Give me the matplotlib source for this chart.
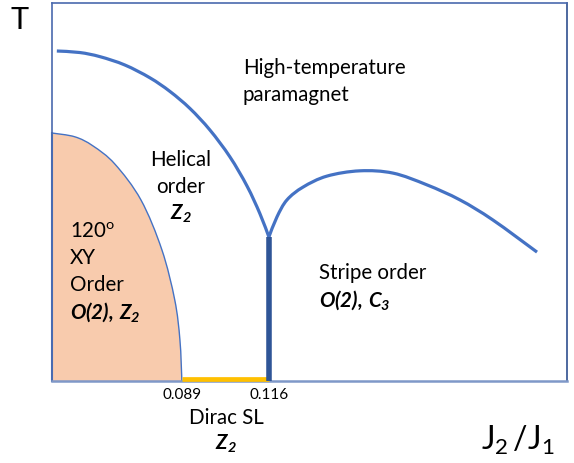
import matplotlib
matplotlib.use("Agg")
import matplotlib.pyplot as plt
from matplotlib.path import Path
from matplotlib.patches import PathPatch

plt.rcParams['font.family'] = ['Lato', 'DejaVu Sans']
plt.rcParams['mathtext.fontset'] = 'custom'
plt.rcParams['mathtext.rm'] = 'Lato'
plt.rcParams['mathtext.it'] = 'Lato:italic:bold'
plt.rcParams['mathtext.bf'] = 'Lato:italic:bold'

# ---- data (J2/J1 on x, T in arbitrary units on y) ----
xy_order_x = [0.0487, 0.0558, 0.0614, 0.0682, 0.0763, 0.0828, 0.0868, 0.0884, 0.0890]
xy_order_T = [0.656, 0.646, 0.622, 0.574, 0.479, 0.347, 0.214, 0.108, 0.0]

helical_x = [0.0502, 0.0573, 0.0636, 0.0713, 0.0791, 0.0853, 0.0915, 0.0977, 0.1039, 0.1092, 0.1132, 0.1160]
helical_T = [0.873, 0.869, 0.858, 0.836, 0.802, 0.766, 0.721, 0.664, 0.593, 0.516, 0.443, 0.381]

stripe_x = [0.1160, 0.1185, 0.1216, 0.1266, 0.1340, 0.1442, 0.1545, 0.1650, 0.1753, 0.1855, 0.1992]
stripe_T = [0.381, 0.434, 0.479, 0.513, 0.542, 0.556, 0.550, 0.519, 0.479, 0.426, 0.341]

J_xy_end = 0.089
J_dirac_end = 0.116
T_cusp = 0.381
tick_labels = ["0.089", "0.116"]

x_min, x_max = 0.0487, 0.2085
T_min, T_max = 0.0, 1.0


def smooth_path(xs, ys):
    """Smooth curve through the given points (Catmull-Rom as cubic Beziers)."""
    pts = list(zip(xs, ys))
    verts = [pts[0]]
    codes = [Path.MOVETO]
    n = len(pts)
    for i in range(n - 1):
        p0 = pts[i - 1] if i > 0 else pts[i]
        p1 = pts[i]
        p2 = pts[i + 1]
        p3 = pts[i + 2] if i + 2 < n else pts[i + 1]
        c1 = (p1[0] + (p2[0] - p0[0]) / 6, p1[1] + (p2[1] - p0[1]) / 6)
        c2 = (p2[0] - (p3[0] - p1[0]) / 6, p2[1] - (p3[1] - p1[1]) / 6)
        verts += [c1, c2, p2]
        codes += [Path.CURVE4] * 3
    return verts, codes


W, H = 574, 463
fig = plt.figure(figsize=(W / 100, H / 100), dpi=100)
ax = fig.add_axes([52 / W, 1 - 381 / H, (567 - 52) / W, (381 - 3) / H])
ax.set_xlim(x_min, x_max)
ax.set_ylim(T_min, T_max)
ax.set_xticks([])
ax.set_yticks([])
for s in ax.spines.values():
    s.set_color('#4A6AAE')
    s.set_linewidth(1.2)
ax.spines['bottom'].set_color('#7F98C8')
ax.spines['bottom'].set_linewidth(1.8)
ax.spines['right'].set_color('#2F4F8F')

# 120 XY order region
v, c = smooth_path(xy_order_x, xy_order_T)
fill_v = v + [(xy_order_x[0], 0.0), (xy_order_x[0], xy_order_T[0])]
fill_c = c + [Path.LINETO, Path.CLOSEPOLY]
ax.add_patch(PathPatch(Path(fill_v, fill_c), facecolor='#F8CBAD', edgecolor='none', zorder=1))
ax.add_patch(PathPatch(Path(v, c), facecolor='none', edgecolor='#4472C4', lw=1.0, zorder=2))
ax.plot([xy_order_x[0], xy_order_x[0]], [0, xy_order_T[0]], color='#4472C4', lw=1.5, zorder=2, clip_on=False)

# transition curves
for xs, ys in [(helical_x, helical_T), (stripe_x, stripe_T)]:
    v, c = smooth_path(xs, ys)
    ax.add_patch(PathPatch(Path(v, c), facecolor='none', edgecolor='#4472C4', lw=2.3,
                           capstyle='butt', zorder=3))

# Dirac SL segment and vertical first-order line
ax.plot([J_xy_end, J_dirac_end], [0.005, 0.005], color='#FFC000', lw=3.4, zorder=4,
        solid_capstyle='butt', clip_on=False)
ax.plot([J_dirac_end, J_dirac_end], [0, T_cusp], color='#2F5597', lw=4.0, zorder=5,
        solid_capstyle='butt', clip_on=False)


def ftxt(px, py, s, **kw):
    fig.text(px / W, 1 - py / H, s, **kw)


FS = 14.8
ftxt(20, 20, "T", fontsize=22, ha='center', va='center')
ftxt(518, 440, r"$\mathrm{J_2\,/J_1}$", fontsize=23, ha='center', va='center')

ftxt(243, 68, "High-temperature", fontsize=FS, ha='left', va='center')
ftxt(243, 95, "paramagnet", fontsize=FS, ha='left', va='center')

ftxt(181, 160, "Helical", fontsize=FS, ha='center', va='center')
ftxt(181, 187, "order", fontsize=FS, ha='center', va='center')
ftxt(181, 214, r"$\mathbf{Z_2}$", fontsize=FS, ha='center', va='center')

ftxt(70, 232, r"120$^\mathrm{o}$", fontsize=FS, ha='left', va='center')
ftxt(70, 258, "XY", fontsize=FS, ha='left', va='center')
ftxt(70, 285, "Order", fontsize=FS, ha='left', va='center')
ftxt(70, 312, r"$\mathbf{O(2),\,Z_2}$", fontsize=FS, ha='left', va='center')

ftxt(319, 273, "Stripe order", fontsize=FS, ha='left', va='center')
ftxt(319, 300, r"$\mathbf{O(2),\,C_3}$", fontsize=FS, ha='left', va='center')

ftxt(182, 395, tick_labels[0], fontsize=11, ha='center', va='center')
ftxt(269, 395, tick_labels[1], fontsize=11, ha='center', va='center')

ftxt(226, 418, "Dirac SL", fontsize=FS, ha='center', va='center')
ftxt(226, 444, r"$\mathbf{Z_2}$", fontsize=FS, ha='center', va='center')

fig.savefig("out.png", dpi=100)
